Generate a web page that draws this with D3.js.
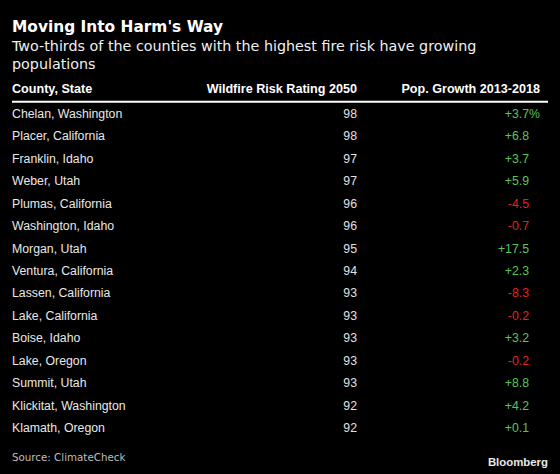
<!DOCTYPE html>
<html>
<head>
<meta charset="utf-8">
<script src="https://cdn.jsdelivr.net/npm/d3@7"></script>
<style>
html,body{margin:0;padding:0;background:#000;}
svg{display:block;}
</style>
</head>
<body>
<script>
const counties = ["Chelan, Washington","Placer, California","Franklin, Idaho","Weber, Utah","Plumas, California","Washington, Idaho","Morgan, Utah","Ventura, California","Lassen, California","Lake, California","Boise, Idaho","Lake, Oregon","Summit, Utah","Klickitat, Washington","Klamath, Oregon"];
const riskRating = [98,98,97,97,96,96,95,94,93,93,93,93,93,92,92];
const popGrowth = [3.7,6.8,3.7,5.9,-4.5,-0.7,17.5,2.3,-8.3,-0.2,3.2,-0.2,8.8,4.2,0.1];
const headers = ["County, State","Wildfire Risk Rating 2050","Pop. Growth 2013-2018"];
const title = "Moving Into Harm's Way";
const subtitleLines = ["Two-thirds of the counties with the highest fire risk have growing","populations"];
const source = "Source: ClimateCheck";

const W = 560, H = 474;
const svg = d3.select("body").append("svg").attr("width", W).attr("height", H);
svg.append("rect").attr("width", W).attr("height", H).attr("fill", "#000");

const fmt = d3.formatLocale({decimal:".", thousands:",", grouping:[3], currency:["$",""], minus:"-"}).format("+.1f");

svg.append("text").attr("x", 12).attr("y", 32.3)
  .attr("font-family", "DejaVu Sans").attr("font-weight", "bold").attr("font-size", 15.4)
  .attr("fill", "#fff").text(title);

svg.append("g").selectAll("text").data(subtitleLines).join("text")
  .attr("x", 12).attr("y", (d,i) => 51 + i*18)
  .attr("font-family", "DejaVu Sans").attr("font-size", 14.3)
  .attr("fill", "#f0f0f0").text(d => d);

const colX = [12, 357, 540];
const anchors = ["start","end","end"];

svg.append("g").selectAll("text").data(headers).join("text")
  .attr("x", (d,i) => colX[i]).attr("y", 93.3).attr("text-anchor", (d,i) => anchors[i])
  .attr("font-family", "Liberation Sans, Arial, sans-serif").attr("font-weight", "bold").attr("font-size", 12.6)
  .attr("fill", "#fff").text(d => d);

svg.append("line").attr("x1", 12).attr("x2", 548).attr("y1", 101.7).attr("y2", 101.7)
  .attr("stroke", "#fff").attr("stroke-width", 2);

const y = d3.scalePoint().domain(d3.range(counties.length)).range([118, 432]);

const rows = svg.append("g").selectAll("g").data(counties.map((c,i) => ({c, r: riskRating[i], g: popGrowth[i], i})))
  .join("g").attr("transform", d => `translate(0,${y(d.i)})`)
  .attr("font-family", "Liberation Sans, Arial, sans-serif").attr("font-size", 12.3);

rows.append("text").attr("x", colX[0]).attr("fill", "#e8e8e8").text(d => d.c);
rows.append("text").attr("x", colX[1]).attr("text-anchor", "end").attr("fill", "#e0e0e0").text(d => d.r);
const gt = rows.append("text").attr("x", colX[2]).attr("text-anchor", "end")
  .attr("fill", d => d.g >= 0 ? "#5cc35c" : "#e0231e");
gt.append("tspan").text(d => fmt(d.g));
gt.append("tspan").attr("fill-opacity", d => d.i === 0 ? 1 : 0).text("%");

svg.append("text").attr("x", 12).attr("y", 461)
  .attr("font-family", "DejaVu Sans").attr("font-size", 10.3)
  .attr("fill", "#bdbdbd").text(source);

svg.append("text").attr("x", 548).attr("y", 465.5).attr("text-anchor", "end")
  .attr("font-family", "Liberation Sans, Arial, sans-serif").attr("font-weight", "bold").attr("font-size", 11.4)
  .attr("fill", "#e8e8e8").text("Bloomberg");
</script>
</body>
</html>
